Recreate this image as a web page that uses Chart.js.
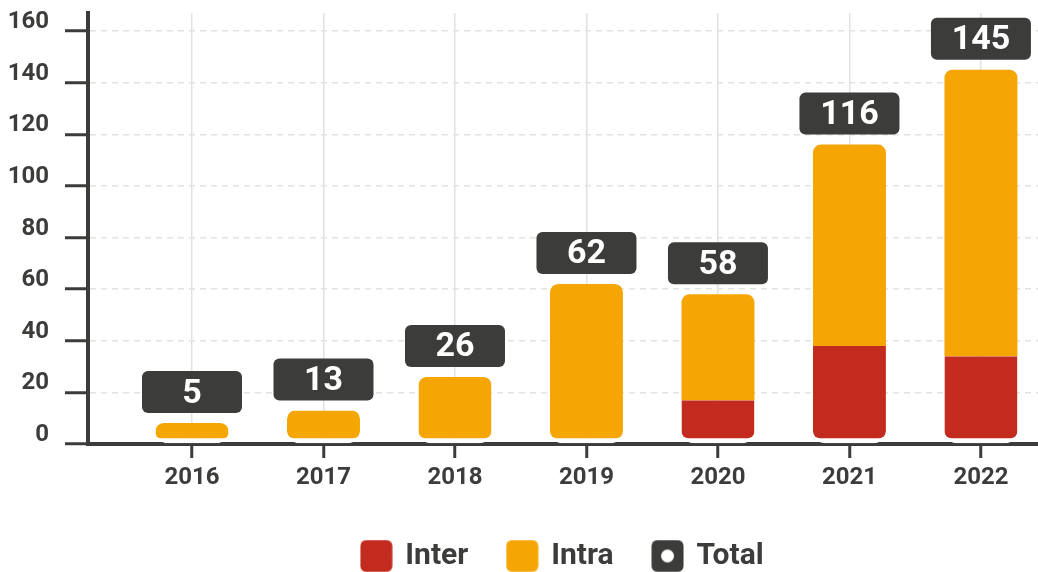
<!DOCTYPE html>
<html>
<head>
<meta charset="utf-8">
<script src="https://cdn.jsdelivr.net/npm/chart.js@4"></script>
<style>
  html, body { margin: 0; padding: 0; background: #fff; overflow: hidden; }
  #wrap { width: 1038px; height: 572px; overflow: hidden; }
</style>
</head>
<body>
<div id="wrap"><canvas id="c" width="1038" height="581"></canvas></div>
<script>
const years = ['2016', '2017', '2018', '2019', '2020', '2021', '2022'];
const inter = [null, null, null, null, 17, 38, 34];
const intra = [5, 13, 26, 62, 41, 78, 111];
const totals = [5, 13, 26, 62, 58, 116, 145];
const yTicks = [0, 20, 40, 60, 80, 100, 120, 140, 160];

const RED = '#c42b1f';
const ORANGE = '#f6a604';
const DARK = '#3c3c3b';
const GRID = '#e2e2e2';
const FONT = "'Roboto', 'Liberation Sans', sans-serif";

function legendIcon(color, dot) {
    const c = document.createElement('canvas');
    c.width = 33; c.height = 33;
    const g = c.getContext('2d');
    g.fillStyle = color;
    g.beginPath();
    g.roundRect(0.5, 0.5, 32, 32, 6);
    g.fill();
    if (dot) {
        g.fillStyle = '#fff';
        g.beginPath();
        g.arc(16.5, 16.5, 6.5, 0, Math.PI * 2);
        g.fill();
    }
    return c;
}
const icons = [legendIcon(RED), legendIcon(ORANGE), legendIcon(DARK, true)];

// bottom-most segment gets a white strip under it and rounded bottom corners
function isBottom(ctx) {
    if (ctx.datasetIndex === 0) return true;
    return !inter[ctx.dataIndex];
}

const totalBoxes = {
    id: 'totalBoxes',
    afterDatasetsDraw(chart) {
        const g = chart.ctx;
        const meta = chart.getDatasetMeta(1);
        g.save();
        meta.data.forEach((bar, i) => {
            const x = bar.x;
            const bottom = bar.y - 10;
            const w = 100, h = 42;
            g.fillStyle = DARK;
            g.beginPath();
            g.roundRect(x - w / 2, bottom - h, w, h, 6);
            g.fill();
            g.fillStyle = '#fff';
            g.font = 'bold 34px ' + FONT;
            g.textAlign = 'center';
            g.textBaseline = 'middle';
            g.fillText(String(totals[i]), x, bottom - h / 2 + 2);
        });
        g.restore();
    }
};

new Chart(document.getElementById('c'), {
    data: {
        labels: years,
        datasets: [
            {
                type: 'bar',
                label: 'Inter',
                data: inter,
                backgroundColor: RED,
                borderColor: '#fff',
                borderSkipped: false,
                borderWidth: {top: 0, left: 0, right: 0, bottom: 5},
                borderRadius: {topLeft: 0, topRight: 0, bottomLeft: 12, bottomRight: 12},
                barPercentage: 0.555,
                categoryPercentage: 1,
                inflateAmount: 0
            },
            {
                type: 'bar',
                label: 'Intra',
                data: intra,
                backgroundColor: ORANGE,
                borderColor: '#fff',
                borderSkipped: false,
                borderWidth: ctx => ({top: 0, left: 0, right: 0, bottom: isBottom(ctx) ? 5 : 0}),
                borderRadius: ctx => isBottom(ctx)
                    ? {topLeft: 8, topRight: 8, bottomLeft: 12, bottomRight: 12}
                    : {topLeft: 8, topRight: 8, bottomLeft: 0, bottomRight: 0},
                minBarLength: 21,
                barPercentage: 0.555,
                categoryPercentage: 1,
                inflateAmount: 0
            },
            {
                type: 'line',
                label: 'Total',
                data: totals,
                stack: 'total',
                showLine: false,
                pointRadius: 0,
                borderColor: DARK,
                backgroundColor: DARK
            }
        ]
    },
    options: {
        responsive: false,
        animation: false,
        events: [],
        layout: {padding: {top: 13, right: 0, bottom: 0, left: 0}},
        scales: {
            x: {
                type: 'linear',
                min: 2015.209,
                max: 2022.434,
                offset: false,
                stacked: true,
                grid: {
                    offset: false,
                    color: GRID,
                    lineWidth: 1.5,
                    tickColor: DARK,
                    tickWidth: 3,
                    tickLength: 14
                },
                border: {color: DARK, width: 4},
                ticks: {
                    stepSize: 1,
                    includeBounds: false,
                    padding: 6,
                    color: DARK,
                    font: {family: FONT, size: 24, weight: 'bold'},
                    callback: v => String(v)
                },
                afterFit: s => { s.height = 57; s.paddingLeft = 0; s.paddingRight = 0; }
            },
            y: {
                min: 0,
                max: 167,
                stacked: true,
                afterBuildTicks: s => { s.ticks = yTicks.map(v => ({value: v})); },
                grid: {
                    color: GRID,
                    lineWidth: 1.5,
                    tickColor: DARK,
                    tickWidth: 3,
                    tickLength: 23
                },
                border: {color: DARK, width: 4, dash: [6, 5]},
                ticks: {
                    includeBounds: false,
                    padding: 16,
                    labelOffset: -9,
                    color: DARK,
                    font: {family: FONT, size: 24, weight: 'bold'}
                },
                afterFit: s => { s.width = 88; s.paddingTop = 0; s.paddingBottom = 0; }
            }
        },
        plugins: {
            tooltip: {enabled: false},
            legend: {
                position: 'bottom',
                fullSize: false,
                labels: {
                    usePointStyle: true,
                    boxWidth: 28,
                    boxHeight: 30,
                    padding: 40,
                    color: DARK,
                    font: {family: FONT, size: 30, weight: 'bold'},
                    generateLabels: chart => chart.data.datasets.map((ds, i) => ({
                        text: ds.label,
                        pointStyle: icons[i],
                        fillStyle: ds.backgroundColor,
                        strokeStyle: ds.backgroundColor,
                        lineWidth: 0,
                        hidden: false,
                        datasetIndex: i,
                        fontColor: DARK
                    }))
                }
            }
        }
    },
    plugins: [totalBoxes]
});
</script>
</body>
</html>
